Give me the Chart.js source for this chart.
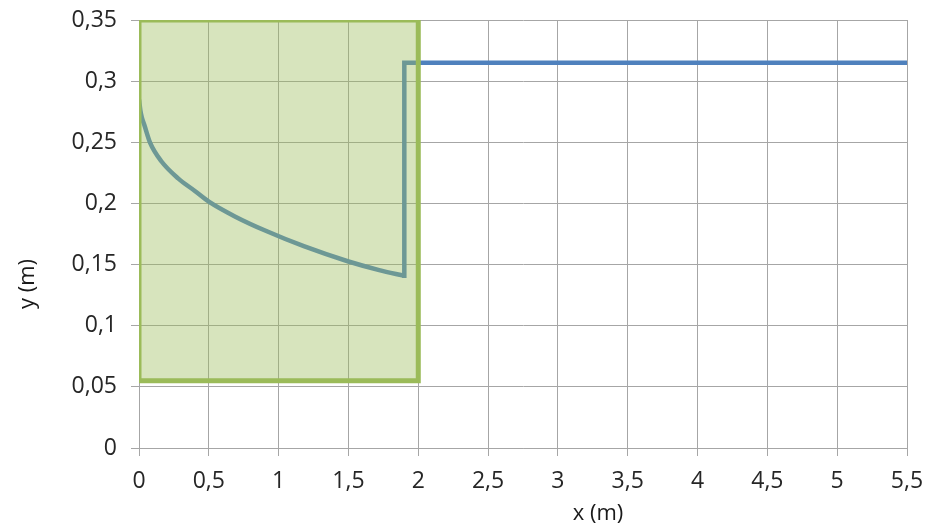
<!DOCTYPE html>
<html>
<head>
<meta charset="utf-8">
<script src="https://cdn.jsdelivr.net/npm/chart.js@4.4.0/dist/chart.umd.min.js"></script>
<style>
	html, body { margin: 0; padding: 0; background: #fff; }
	#wrap { width: 928px; height: 532px; }
</style>
</head>
<body>
<div id="wrap"><canvas id="chart"></canvas></div>
<script>
// water surface profile (m), smooth part
const curveX = [0, 0.01, 0.02, 0.04, 0.08, 0.16, 0.28, 0.4, 0.5, 0.69, 0.92, 1.18, 1.5, 1.72, 1.9];
const curveY = [0.285, 0.276, 0.2705, 0.2635, 0.2495, 0.2345, 0.2205, 0.2102, 0.2015, 0.1892, 0.1770, 0.165, 0.1525, 0.1455, 0.1408];

// jump and level downstream
const jumpX = [1.9, 1.9, 5.5];
const jumpY = [0.1408, 0.315, 0.315];

// shaded zone outline
const zoneX = [0, 0, 2, 2, 0];
const zoneY = [0.055, 0.35, 0.35, 0.055, 0.055];

// axes
const xMin = 0, xMax = 5.5, xStep = 0.5;
const yMin = 0, yMax = 0.35, yStep = 0.05;
const xTitle = 'x (m)';
const yTitle = 'y (m)';

const FONT = "'Open Sans', sans-serif";
const toPoints = (xs, ys) => xs.map((x, i) => ({x: x, y: ys[i]}));
const comma = v => String(Math.round(v * 1000) / 1000).replace('.', ',');

const axisTitles = {
	id: 'axisTitles',
	afterDraw(chart) {
		const ctx = chart.ctx;
		ctx.save();
		ctx.fillStyle = '#1a1a1a';
		ctx.font = `22px ${FONT}`;
		ctx.textAlign = 'center';
		ctx.textBaseline = 'middle';
		ctx.fillText(xTitle, 598, 514);
		ctx.translate(28, 284);
		ctx.rotate(-Math.PI / 2);
		ctx.fillText(yTitle, 0, 0);
		ctx.restore();
	}
};

const lineStyle = {
	showLine: true,
	borderColor: '#4F81BD',
	borderWidth: 4.5,
	borderJoinStyle: 'miter',
	fill: false,
	pointRadius: 0
};

new Chart(document.getElementById('chart'), {
	type: 'scatter',
	data: {
		datasets: [{
			// drawn on top: semi-transparent zone
			data: toPoints(zoneX, zoneY),
			showLine: true,
			borderColor: '#9BBB59',
			backgroundColor: 'rgba(155,187,89,0.4)',
			borderWidth: 5,
			borderJoinStyle: 'miter',
			fill: 'shape',
			pointRadius: 0,
			order: 0
		}, {
			...lineStyle,
			data: toPoints(curveX, curveY),
			cubicInterpolationMode: 'monotone',
			order: 1
		}, {
			...lineStyle,
			data: toPoints(jumpX, jumpY),
			borderCapStyle: 'square',
			tension: 0,
			order: 2
		}]
	},
	options: {
		responsive: true,
		maintainAspectRatio: false,
		animation: false,
		layout: {padding: {left: 0, right: 21, top: 20, bottom: 0}},
		plugins: {
			legend: {display: false},
			tooltip: {enabled: false}
		},
		scales: {
			x: {
				type: 'linear',
				min: xMin, max: xMax,
				afterFit: s => {
					s.height = 84;
					s.paddingLeft = 0;
					s.paddingRight = 0;
				},
				grid: {color: '#a6a6a6', lineWidth: 1, tickLength: 8},
				border: {color: '#a6a6a6'},
				ticks: {
					stepSize: xStep,
					padding: 12,
					color: '#262626',
					font: {family: FONT, size: 23},
					maxRotation: 0,
					callback: comma
				}
			},
			y: {
				type: 'linear',
				min: yMin, max: yMax,
				afterFit: s => {
					s.width = 139;
					s.paddingTop = 0;
					s.paddingBottom = 0;
				},
				grid: {color: '#a6a6a6', lineWidth: 1, tickLength: 8},
				border: {color: '#a6a6a6'},
				ticks: {
					stepSize: yStep,
					padding: 14,
					color: '#262626',
					font: {family: FONT, size: 23},
					callback: comma
				}
			}
		}
	},
	plugins: [axisTitles]
});
</script>
</body>
</html>
